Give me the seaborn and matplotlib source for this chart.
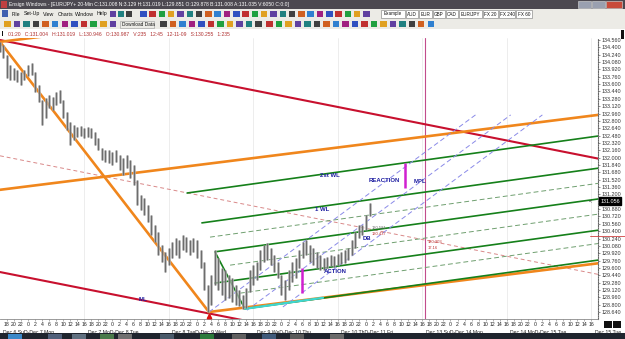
import numpy as np
import pandas as pd
import matplotlib
matplotlib.use("Agg")
import matplotlib.pyplot as plt
from matplotlib.patches import Rectangle
from matplotlib.transforms import blended_transform_factory
import seaborn as sns

# ---------------- data ----------------
# hourly bars, hours counted from Dec 7 00:00
bar_hours = list(range(-8, 98))
bar_high = [134.52, 134.45, 134.23, 134.02, 133.95, 133.91, 133.86, 133.91, 134.02, 134.06,
            133.86, 133.58, 133.25, 133.30, 133.36, 133.32, 133.43, 133.47, 133.25, 132.99,
            132.78, 132.71, 132.67, 132.69, 132.65, 132.67, 132.65, 132.56, 132.43, 132.21,
            132.17, 132.17, 132.12, 132.17, 132.06, 131.99, 132.06, 131.95, 131.84, 131.51,
            131.19, 131.12, 130.97, 130.75, 130.53, 130.38, 130.10, 129.95, 130.03, 130.16,
            130.25, 130.21, 130.32, 130.27, 130.21, 130.25, 130.21, 129.99, 129.73, 129.23,
            129.45, 129.99, 129.82, 129.60, 129.56, 129.45, 129.38, 129.23, 129.12, 129.01,
            129.16, 129.56, 129.66, 129.73, 129.99, 130.10, 130.14, 130.03, 129.88, 129.73,
            129.45, 129.34, 129.56, 129.73, 129.82, 129.99, 130.16, 130.21, 130.10, 130.03,
            129.95, 129.88, 129.82, 129.84, 129.88, 129.86, 129.90, 129.95, 129.99, 130.03,
            130.21, 130.38, 130.53, 130.53, 130.75, 131.02]
bar_low = [134.30, 134.17, 133.73, 133.69, 133.69, 133.65, 133.58, 133.69, 133.78, 133.80,
           133.43, 133.21, 132.71, 132.86, 133.08, 133.04, 133.15, 133.19, 132.86, 132.60,
           132.28, 132.38, 132.45, 132.47, 132.43, 132.45, 132.43, 132.28, 132.17, 131.95,
           131.91, 131.88, 131.84, 131.91, 131.73, 131.62, 131.77, 131.56, 131.40, 130.97,
           130.86, 130.75, 130.60, 130.32, 130.16, 129.88, 129.73, 129.51, 129.66, 129.82,
           129.88, 129.82, 129.99, 129.95, 129.88, 129.95, 129.82, 129.60, 129.12, 128.64,
           128.79, 129.23, 129.12, 129.01, 128.90, 128.95, 128.86, 128.79, 128.77, 128.71,
           128.73, 129.08, 129.23, 129.34, 129.56, 129.73, 129.77, 129.66, 129.51, 129.38,
           129.01, 128.90, 129.12, 129.29, 129.38, 129.60, 129.82, 129.88, 129.73, 129.66,
           129.60, 129.56, 129.56, 129.60, 129.64, 129.62, 129.66, 129.69, 129.71, 129.77,
           129.88, 130.03, 130.25, 130.32, 130.43, 130.72]

# trend lines: start hour, start price, end hour, end price
line_names = ["red_upper", "red_lower", "red_mid", "orange_steep", "orange_top",
              "orange_median", "orange_lower",
              "green_2wl", "green_1wl", "green_da", "green_b", "green_db", "green_med",
              "green_dc", "green_c", "green_handle", "cyan",
              "blue_1", "blue_2", "blue_3"]
line_t0 = [-7.95, -7.95, -7.95, -7.95, -7.95, -7.95, 51.4,
           45.2, 49.4, 51.7, 53.1, 57.4, 53.1, 60.2, 61.6, 53.1, 61.6,
           51.4, 62.2, 72.4]
line_p0 = [134.56, 129.51, 132.04, 134.52, 134.52, 131.30, 128.64,
           131.23, 130.58, 130.27, 129.95, 129.66, 129.27, 129.05, 128.71, 129.95, 128.71,
           128.64, 128.68, 128.75]
line_t1 = [161.9, 161.9, 161.9, 51.4, 40.0, 161.9, 161.9,
           161.9, 161.9, 161.9, 161.9, 161.9, 161.9, 161.9, 161.9, 61.6, 83.8,
           127.1, 137.1, 146.1]
line_p1 = [131.98, 126.93, 129.46, 128.64, 134.98, 132.93, 129.70,
           132.47, 131.77, 131.44, 131.10, 130.77, 130.42, 130.13, 129.77, 128.71, 128.95,
           132.93, 132.93, 132.93]

# magenta measurement bars: hour, price from, price to
meas_t = [77.8, 107.1]
meas_lo = [129.05, 131.34]
meas_hi = [129.60, 131.88]
vline_t = 112.8
low_marker_t, low_marker_p = 51.4, 128.55

annot_text = ["2st WL", "1 WL", "REACTION", "MPL", "DB", "ACTION", "ML"]
annot_t = [85.8, 83.5, 101.1, 111.4, 96.3, 87.2, 32.7]
annot_p = [131.62, 130.88, 131.51, 131.47, 130.23, 129.53, 128.92]

price_ticks = [128.64, 128.80, 128.96, 129.12, 129.28, 129.44, 129.60, 129.76, 129.92,
               130.08, 130.24, 130.40, 130.56, 130.72, 130.88, 131.04, 131.20, 131.36,
               131.52, 131.68, 131.84, 132.00, 132.16, 132.32, 132.48, 132.64, 132.80,
               132.96, 133.12, 133.28, 133.44, 133.60, 133.76, 133.92, 134.08, 134.24,
               134.40, 134.56]
last_price = 131.056
hour_ticks = list(range(-6, 162, 2))
hour_labels = [str(h % 24) for h in hour_ticks]
date_hours = [-7, 17, 41, 65, 89, 113, 137, 161]
date_labels = ["Dec 6 SuD-Dec 7 Mon", "Dec 7 MoD-Dec 8 Tue", "Dec 8 TueD-Dec 9 Wed",
               "Dec 9 WeD-Dec 10 Thu", "Dec 10 ThD-Dec 11 Fri", "Dec 13 SuD-Dec 14 Mon",
               "Dec 14 MoD-Dec 15 Tue", "Dec 15 Tue"]

title_text = ("Ensign Windows - [EUR/JPY+ 20-Min C:131.008 N:3.129 H:131.019 L:129.851 "
              "O:129.878 B:131.008 A:131.035 V:6050 C:0:0]")
info_text = ("01:20   C:131.004   H:131.019   L:130.946   O:130.987   V:235   12:45   "
             "12-11-09   S:130.255   1:235")
menu_items = ["File", "Set-Up", "View", "Charts", "Window", "Help"]
tab_items = ["Example", "AUD", "EUR", "GBP", "CAD", "EUR/JPY", "FX 20", "FX 240", "FX 60"]

# ---------------- styles ----------------
RED = "#c8102e"; ORANGE = "#f0861c"; GREEN = "#15801a"; GREEN_D = "#6f9f6f"
style = {
    "red_upper": (RED, 1.5, "-"), "red_lower": (RED, 1.5, "-"),
    "red_mid": ("#d98888", 0.7, (0, (4, 3))),
    "orange_steep": (ORANGE, 1.9, "-"), "orange_top": (ORANGE, 1.9, "-"),
    "orange_median": (ORANGE, 1.9, "-"), "orange_lower": (ORANGE, 1.9, "-"),
    "green_2wl": (GREEN, 1.2, "-"), "green_1wl": (GREEN, 1.2, "-"),
    "green_da": (GREEN_D, 0.7, (0, (5, 3))), "green_b": (GREEN, 1.2, "-"),
    "green_db": (GREEN_D, 0.7, (0, (5, 3))), "green_med": (GREEN, 1.2, "-"),
    "green_dc": (GREEN_D, 0.7, (0, (5, 3))), "green_c": (GREEN, 1.2, "-"),
    "green_handle": (GREEN, 1.2, "-"), "cyan": ("#3fd6cf", 1.6, "-"),
    "blue_1": ("#8a8ae8", 0.7, (0, (5, 3))), "blue_2": ("#8a8ae8", 0.7, (0, (5, 3))),
    "blue_3": ("#8a8ae8", 0.7, (0, (5, 3))),
}

sns.set_theme(style="white")
plt.rcParams["font.family"] = ["Liberation Sans", "DejaVu Sans"]

W, H = 625, 339
fig = plt.figure(figsize=(W / 100, H / 100), dpi=100)
fig.patch.set_facecolor("white")


def R(x, y, w, h, fc, ec="none", lw=0.4, z=1):
    fig.add_artist(Rectangle((x / W, 1 - (y + h) / H), w / W, h / H,
                             transform=fig.transFigure, fc=fc, ec=ec, lw=lw, zorder=z))


def T(x, y, s, **kw):
    kw.setdefault("va", "center")
    fig.text(x / W, 1 - y / H, s, **kw)


# ---------- window chrome ----------
R(0, 0, W, 9, "#4c4850")
R(1, 1.5, 6, 6, "#c04040", z=2)
T(9, 4.6, title_text, color="white", fontsize=3.6)
R(578, 1, 13, 7, "#9aa0b0", ec="#ddd", z=2)
R(592, 1, 13, 7, "#9aa0b0", ec="#ddd", z=2)
R(606, 1, 16, 7, "#c84a3a", ec="#ddd", z=2)
R(0, 9, W, 10, "#ecebe6")
R(0, 19, W, 10, "#ecebe6")
R(0, 18.7, W, 0.5, "#c8c6c0", z=2)
R(0, 28.7, W, 0.5, "#c8c6c0", z=2)
R(2, 10.5, 6, 6, "#4060b0", z=2)
for xm, s in zip([12, 24, 43, 58, 75, 97], menu_items):
    T(xm, 14, s, fontsize=3.8, color="#111")
icon_cols = ["#3050c0", "#c03030", "#20a040", "#e0a020", "#6040a0", "#208080",
             "#404040", "#d06020", "#3080d0", "#a02080"]
for i, xi in enumerate(np.arange(110, 131, 8)):
    R(xi, 11, 6, 6, icon_cols[(i + 4) % 10], z=2)
for i, xi in enumerate(np.arange(140, 372, 9.3)):
    R(xi, 10.5, 6.5, 6.5, icon_cols[i % 10], z=2)
tab_x = [381, 406, 419, 433, 446, 459, 483, 499, 516]
tab_w = [24, 12, 13, 12, 12, 23, 15, 16, 16]
for xt, wt, s in zip(tab_x, tab_w, tab_items):
    R(xt, 10, wt, 8, "white", ec="#777", lw=0.4, z=2)
    T(xt + wt / 2, 14, s, fontsize=3.3, color="#111", ha="center", zorder=3)
for i, xi in enumerate(np.arange(4, 112, 9.6)):
    R(xi, 20.5, 6.5, 6.5, icon_cols[(i + 3) % 10], z=2)
R(120, 20.5, 34, 7, "#ecebe6", ec="#999", z=2)
T(122, 24, "Download Data", fontsize=3.4, color="#111", zorder=3)
for i, xi in enumerate(np.arange(160, 262, 9.5)):
    R(xi, 20.5, 6.5, 6.5, icon_cols[(i + 6) % 10], z=2)
for i, xi in enumerate(np.arange(266, 436, 9.5)):
    R(xi, 20.5, 6.5, 6.5, icon_cols[(i + 1) % 10], z=2)
# info line
R(2, 31, 1.3, 5, "#111", z=2)
T(8, 34.5, info_text, fontsize=3.6, color="#b03030")
R(621, 30, 3, 9, "#111", z=2)
# taskbar
R(0, 333, W, 6, "#1f252e")
for xb, cb in zip([8, 48, 72, 100, 118, 160, 200, 232, 262, 290, 330],
                  ["#3a88c8", "#50607a", "#607080", "#4a7a4a", "#707070", "#4a5a6a",
                   "#2a7a3a", "#606060", "#405a7a", "#5a5a5a", "#6a6a6a"]):
    R(xb, 334, 14, 5, cb, z=2)
R(604, 321, 8, 7, "#111", z=3)
R(613, 321, 8, 7, "#111", z=3)

# ---------- chart ----------
ax = fig.add_axes([0, 20 / H, 598 / W, 281 / H])
ax.set_facecolor("white")
ax.set_xlim(-7.95, 161.9)
ax.set_ylim(128.488, 134.604)

for tg in range(16, 161, 24):
    ax.axvline(tg, color="#e6e6e6", lw=0.5, zorder=0)

for name, t0, p0, t1, p1 in zip(line_names, line_t0, line_p0, line_t1, line_p1):
    c, lw, ls = style[name]
    sns.lineplot(x=[t0, t1], y=[p0, p1], ax=ax, color=c, linewidth=lw,
                 linestyle=ls, zorder=3 if name != "cyan" else 4)

ax.axvline(vline_t, color="#c24c8c", lw=0.8, zorder=2)

bars = pd.DataFrame({"t": bar_hours, "hi": bar_high, "lo": bar_low})
ax.vlines(bars["t"], bars["lo"], bars["hi"], color="#a8a8a8", lw=1.8, zorder=5)
ax.vlines(bars["t"], bars["lo"], bars["hi"], color="#4a4a4a", lw=0.45, zorder=6)

ax.vlines(meas_t, meas_lo, meas_hi, color="#d020d0", lw=1.8, zorder=6)
ax.plot([low_marker_t], [low_marker_p], marker="^", color="#d81010", ms=3.2, zorder=7,
        clip_on=False)

for s, t, p in zip(annot_text, annot_t, annot_p):
    ax.text(t, p, s, color="#1c1ca0", fontsize=4.3, fontweight="bold",
            ha="center", va="center", zorder=8)
ax.text(97.5, 130.47, "130.581", fontsize=3.0, color="#666", ha="left", va="center", zorder=8)
ax.text(97.5, 130.34, "130.437", fontsize=3.0, color="#c03030", ha="left", va="center", zorder=8)
ax.text(113.4, 130.16, "130.303", fontsize=3.0, color="#c03030", ha="left", va="center", zorder=8)
ax.text(113.4, 130.04, "17.16", fontsize=3.0, color="#c03030", ha="left", va="center", zorder=8)

# axes styling
for sp in ["left", "top"]:
    ax.spines[sp].set_visible(False)
ax.spines["bottom"].set_color("#8a8a8a")
ax.spines["bottom"].set_linewidth(0.6)
ax.spines["right"].set_color("#666")
ax.spines["right"].set_linewidth(0.8)
ax.spines["right"].set_linestyle((0, (1, 1.2)))

ax.yaxis.tick_right()
ax.set_yticks(price_ticks)
ax.set_yticklabels(["" if abs(v - 131.04) < 1e-6 else f"{v:.3f}" for v in price_ticks])
ax.tick_params(axis="y", which="major", right=True, length=1.5, width=0.5,
               color="#666", pad=1.2, labelsize=3.9, labelcolor="#333")
ax.set_xticks(hour_ticks)
ax.set_xticklabels(hour_labels)
ax.tick_params(axis="x", which="major", bottom=True, length=1.5, width=0.4,
               color="#777", pad=0.6, labelsize=3.7, labelcolor="#222")
ax.set_xlabel(""); ax.set_ylabel("")
ax.grid(False)

trans = blended_transform_factory(ax.transData, ax.transAxes)
for t, s in zip(date_hours, date_labels):
    ax.text(t, -0.038, s, transform=trans, fontsize=3.7, color="#222",
            ha="left", va="top", clip_on=False)

# last price box
ytr = blended_transform_factory(ax.transAxes, ax.transData)
ax.text(1.004, last_price, f"{last_price:.3f}", transform=ytr, fontsize=3.9,
        color="white", ha="left", va="center", zorder=9, clip_on=False,
        bbox=dict(boxstyle="square,pad=0.25", fc="black", ec="black"))
ax.text(0.992, last_price, "-<", transform=ytr, fontsize=3.3, color="#333",
        ha="right", va="center", clip_on=False)
ax.plot([0.987, 1.045], [130.30, 130.30], transform=ytr, color="#d04040", lw=0.6,
        clip_on=False, zorder=8)

fig.savefig("out.png", dpi=100, facecolor="white")
